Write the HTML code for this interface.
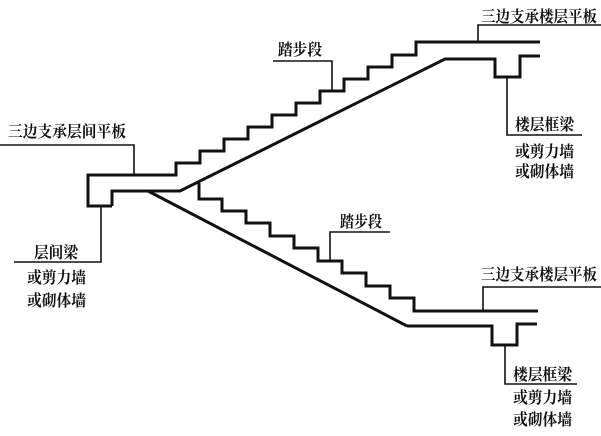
<!DOCTYPE html>
<html><head><meta charset="utf-8"><style>
html,body{margin:0;padding:0;background:#fff;}
svg{display:block;}
text{font-family:"Liberation Serif","Noto Serif CJK SC",serif;font-size:16px;font-weight:bold;fill:#111;}
</style></head><body>
<svg width="601" height="436" viewBox="0 0 601 436" xmlns="http://www.w3.org/2000/svg">
<g fill="none" stroke="#111" stroke-width="3" stroke-linejoin="miter">
<!-- landing -->
<polyline points="112,206 88,206 88,175 176,175 176,163 200,163 200,151 224,151 224,139 248,139 248,127 272,127 272,115 296,115 296,103 320,103 320,91 344,91 344,79 368,79 368,67 392,67 392,55 416,55 416,42 540,42"/>
<polyline points="112,206 112,191 180,191 445,59 495,59 495,77 520,77 520,56 540,56"/>
<!-- lower flight -->
<line x1="148" y1="191" x2="407" y2="326"/>
<polyline points="407,326 492,326 492,345 517,345 517,324 537,324"/>
<polyline points="199,183 199,199 222,199 222,211 246,211 246,223 270,223 270,236 294,236 294,248 318,248 318,261 342,261 342,273 366,273 366,286 390,286 390,298 414,298 414,311 538,311"/>
</g>
<g fill="none" stroke="#111" stroke-width="1.6">
<polyline points="0,145 134,145 134,175"/>
<polyline points="14,262 101,262 101,206"/>
<polyline points="273,61 332,61 332,90"/>
<polyline points="601,25 478,25 478,42"/>
<polyline points="582,135 507,135 507,77"/>
<polyline points="390,232 330,232 330,261"/>
<polyline points="601,287 483,287 483,311"/>
<polyline points="577,384 505,384 505,345"/>
</g>
<text x="8" y="137" textLength="118" lengthAdjust="spacingAndGlyphs">三边支承层间平板</text>
<text x="34" y="258" textLength="44" lengthAdjust="spacingAndGlyphs">层间梁</text>
<text x="27" y="283" textLength="59" lengthAdjust="spacingAndGlyphs">或剪力墙</text>
<text x="27" y="306" textLength="59" lengthAdjust="spacingAndGlyphs">或砌体墙</text>
<text x="278" y="55" textLength="44" lengthAdjust="spacingAndGlyphs">踏步段</text>
<text x="481" y="22" textLength="116" lengthAdjust="spacingAndGlyphs">三边支承楼层平板</text>
<text x="515" y="130" textLength="59" lengthAdjust="spacingAndGlyphs">楼层框梁</text>
<text x="515" y="157" textLength="59" lengthAdjust="spacingAndGlyphs">或剪力墙</text>
<text x="515" y="177" textLength="59" lengthAdjust="spacingAndGlyphs">或砌体墙</text>
<text x="340" y="227" textLength="42" lengthAdjust="spacingAndGlyphs">踏步段</text>
<text x="481" y="280" textLength="116" lengthAdjust="spacingAndGlyphs">三边支承楼层平板</text>
<text x="513" y="380" textLength="59" lengthAdjust="spacingAndGlyphs">楼层框梁</text>
<text x="513" y="403" textLength="59" lengthAdjust="spacingAndGlyphs">或剪力墙</text>
<text x="513" y="425" textLength="59" lengthAdjust="spacingAndGlyphs">或砌体墙</text>
</svg>
</body></html>
